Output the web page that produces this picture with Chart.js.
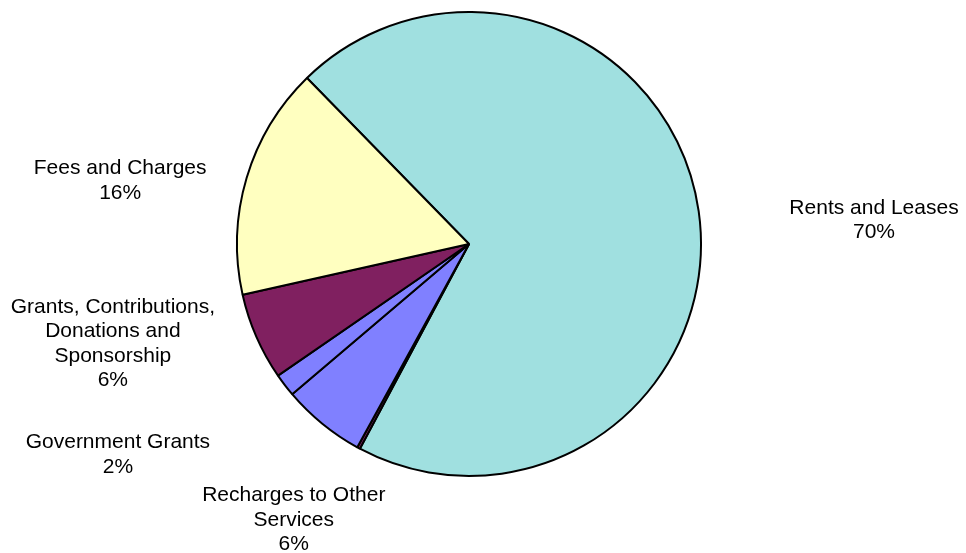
<!DOCTYPE html>
<html>
<head>
<meta charset="utf-8">
<script src="https://cdn.jsdelivr.net/npm/chart.js@4.4.0/dist/chart.umd.min.js"></script>
<style>
  html, body { margin: 0; padding: 0; background: #fff; }
  #wrap { width: 966px; height: 553px; position: relative; }
</style>
</head>
<body>
<div id="wrap"><canvas id="incomeChart"></canvas></div>
<script>
// income sources, in the order they are drawn clockwise
const categories = [
    ['Rents and Leases'],
    ['Interest'],
    ['Recharges to Other', 'Services'],
    ['Government Grants'],
    ['Grants, Contributions,', 'Donations and', 'Sponsorship'],
    ['Fees and Charges']
];
const shares = [70.1, 0.2, 5.8, 1.6, 6.1, 16.2];
const sliceColors = ['#A0E0E0', '#802060', '#8080FF', '#8080FF', '#802060', '#FFFFC0'];

// where each label sits: angle nudge (deg) from slice middle, distance in radii
const labelPlacement = [
    { shift: 4.6, dist: 1.749 },
    null,
    { shift: -6.7, dist: 1.405 },
    { shift: 6.6, dist: 1.763 },
    { shift: 8.1, dist: 1.593 },
    { shift: -6.1, dist: 1.529 }
];

const sliceLabels = {
    id: 'sliceLabels',
    afterDatasetsDraw(chart) {
        const ctx = chart.ctx;
        const data = chart.data.datasets[0].data;
        const total = data.reduce((a, b) => a + b, 0);
        const arcs = chart.getDatasetMeta(0).data;
        ctx.save();
        ctx.font = '21px "Liberation Sans", Arial, sans-serif';
        ctx.fillStyle = '#000';
        ctx.textAlign = 'center';
        ctx.textBaseline = 'middle';
        const lineH = 24.5;
        arcs.forEach((arc, i) => {
            const place = labelPlacement[i];
            if (!place) return;
            const p = arc.getProps(['x', 'y', 'startAngle', 'endAngle', 'outerRadius'], true);
            const mid = (p.startAngle + p.endAngle) / 2 + place.shift * Math.PI / 180;
            const cx = p.x + Math.cos(mid) * p.outerRadius * place.dist;
            const cy = p.y + Math.sin(mid) * p.outerRadius * place.dist + 1;
            const lines = chart.data.labels[i].concat([Math.round(data[i] / total * 100) + '%']);
            const top = cy - (lines.length - 1) * lineH / 2;
            lines.forEach((t, k) => ctx.fillText(t, cx, top + k * lineH));
        });
        ctx.restore();
    }
};

window.onload = function() {
    const ctx = document.getElementById('incomeChart').getContext('2d');
    new Chart(ctx, {
        type: 'pie',
        data: {
            labels: categories,
            datasets: [{
                data: shares,
                backgroundColor: sliceColors,
                borderColor: '#000',
                borderWidth: 2
            }]
        },
        options: {
            responsive: true,
            maintainAspectRatio: false,
            animation: false,
            rotation: -44.3,
            layout: { padding: { left: 236, right: 264, top: 11, bottom: 76 } },
            plugins: {
                legend: { display: false },
                tooltip: { enabled: false }
            }
        },
        plugins: [sliceLabels]
    });
}
</script>
</body>
</html>
